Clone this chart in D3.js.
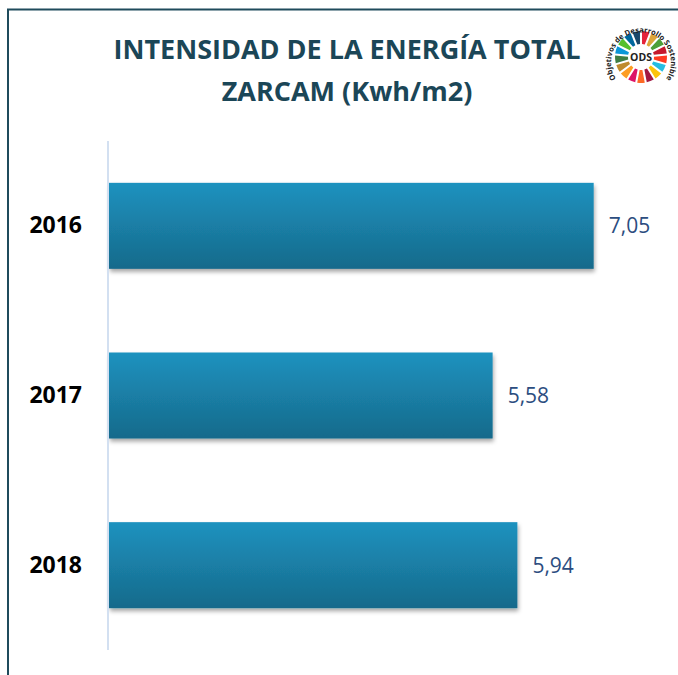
<!DOCTYPE html>
<html>
<head>
<meta charset="utf-8">
<script src="https://cdn.jsdelivr.net/npm/d3@7"></script>
<style>
	body { margin: 0; background: #fff; }
	svg { display: block; font-family: "Open Sans", sans-serif; }
</style>
</head>
<body>
<div id="chart"></div>
<script>
(function() {
	"use strict";

	var years = ['2016', '2017', '2018'];
	var values = [7.05, 5.58, 5.94];
	var titleLines = ['INTENSIDAD DE LA ENERGÍA TOTAL', 'ZARCAM (Kwh/m2)'];
	var sdgColors = ['#e5243b', '#dda63a', '#4c9f38', '#c5192d', '#ff3a21', '#26bde2', '#fcc30b', '#a21942',
		'#fd6925', '#dd1367', '#fd9d24', '#bf8b2e', '#3f7e44', '#0a97d9', '#56c02b', '#00689d', '#19486a'];

	var WIDTH = 678;
	var HEIGHT = 675;
	var PLOT_LEFT = 109;
	var PLOT_TOP = 141;
	var PLOT_BOTTOM = 650;

	var svg = d3.select('#chart').append('svg')
		.attr('width', WIDTH)
		.attr('height', HEIGHT);

	var defs = svg.append('defs');
	var gradient = defs.append('linearGradient')
		.attr('id', 'barFill')
		.attr('x1', 0).attr('y1', 0).attr('x2', 0).attr('y2', 1);
	gradient.append('stop').attr('offset', '0%').attr('stop-color', '#1e92bf');
	gradient.append('stop').attr('offset', '100%').attr('stop-color', '#166a8b');

	var shadow = defs.append('filter')
		.attr('id', 'barShadow')
		.attr('x', '-5%').attr('y', '-10%').attr('width', '110%').attr('height', '130%');
	shadow.append('feDropShadow')
		.attr('dx', 1).attr('dy', 3)
		.attr('stdDeviation', 2)
		.attr('flood-color', '#000')
		.attr('flood-opacity', 0.35);

	// frame: left and top edges only
	svg.append('path')
		.attr('d', 'M8,' + HEIGHT + ' V9.5 H' + WIDTH)
		.attr('fill', 'none')
		.attr('stroke', '#1f4b5c')
		.attr('stroke-width', 2);

	// title
	svg.append('text')
		.attr('x', 347)
		.attr('text-anchor', 'middle')
		.attr('fill', '#1b4657')
		.attr('font-weight', 'bold')
		.attr('font-size', 27)
		.selectAll('tspan')
		.data(titleLines)
		.enter()
		.append('tspan')
		.attr('x', 347)
		.attr('y', function (_, i) { return 59 + i * 42; })
		.text(function (d) { return d; });

	var x = d3.scaleLinear()
		.domain([0, 8])
		.range([PLOT_LEFT, PLOT_LEFT + 550]);

	var y = d3.scaleBand()
		.domain(years)
		.range([PLOT_TOP, PLOT_BOTTOM])
		.paddingInner(0.493)
		.paddingOuter(0.2465);

	svg.append('g')
		.selectAll('rect')
		.data(values)
		.enter()
		.append('rect')
		.attr('x', x(0))
		.attr('y', function (_, i) { return y(years[i]); })
		.attr('width', function (d) { return x(d) - x(0); })
		.attr('height', y.bandwidth())
		.attr('fill', 'url(#barFill)')
		.attr('filter', 'url(#barShadow)');

	// category axis line
	svg.append('line')
		.attr('x1', PLOT_LEFT - 1).attr('x2', PLOT_LEFT - 1)
		.attr('y1', PLOT_TOP).attr('y2', PLOT_BOTTOM)
		.attr('stroke', '#d3e0f1')
		.attr('stroke-width', 2);

	var yAxis = svg.append('g')
		.attr('transform', 'translate(82,0)')
		.call(d3.axisLeft(y).tickSize(0).tickPadding(0));
	yAxis.select('.domain').remove();
	yAxis.selectAll('text')
		.attr('font-family', '"Open Sans", sans-serif')
		.attr('font-size', 23)
		.attr('font-weight', 'bold')
		.attr('fill', '#000');

	var format = function (d) { return d3.format('.2f')(d).replace('.', ','); };

	svg.append('g')
		.selectAll('text')
		.data(values)
		.enter()
		.append('text')
		.attr('x', function (d) { return x(d) + 15; })
		.attr('y', function (_, i) { return y(years[i]) + y.bandwidth() / 2; })
		.attr('dy', '0.35em')
		.attr('font-size', 21)
		.attr('fill', '#2c4d80')
		.text(format);

	// ODS logo
	var logo = svg.append('g').attr('transform', 'translate(641,57)');
	var pie = d3.pie().value(1).sort(null).padAngle(0.07);
	var arc = d3.arc().innerRadius(13).outerRadius(26);
	logo.selectAll('path')
		.data(pie(sdgColors))
		.enter()
		.append('path')
		.attr('d', arc)
		.attr('fill', function (d) { return d.data; });
	logo.append('text')
		.attr('text-anchor', 'middle')
		.attr('dy', '0.36em')
		.attr('font-size', 10.5)
		.attr('font-weight', 'bold')
		.attr('fill', '#222')
		.text('ODS');
	defs.append('path')
		.attr('id', 'logoArc')
		.attr('d', 'M-25,22 A30,30 0 1,1 25,22');
	logo.append('text')
		.attr('font-size', 7.5)
		.attr('font-weight', 'bold')
		.attr('fill', '#222')
		.append('textPath')
		.attr('href', '#logoArc')
		.attr('startOffset', '50%')
		.attr('text-anchor', 'middle')
		.text('Objetivos de Desarrollo Sostenible');
}());
</script>
</body>
</html>
